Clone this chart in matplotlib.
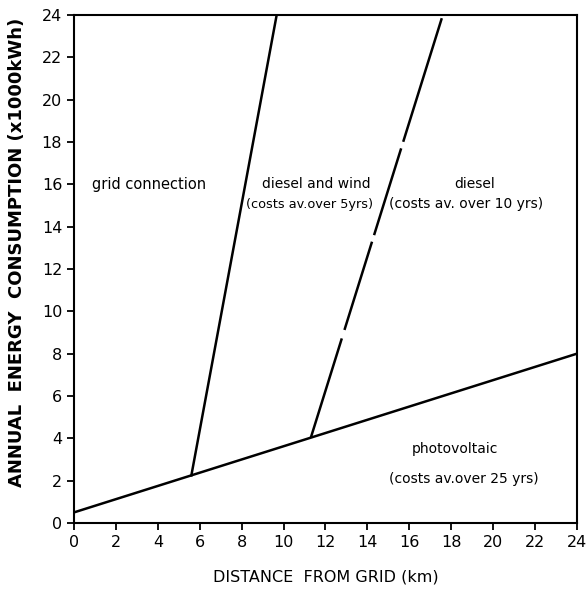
import numpy as np
import matplotlib
matplotlib.use("Agg")
import matplotlib.pyplot as plt

# boundary lines (distance km, consumption x1000 kWh)
pv_x = [0, 24]
pv_y = [0.5, 8.0]
grid_x = [5.6, 9.67]
grid_y = [2.25, 24.0]
diesel_x = [11.3, 17.55]
diesel_y = [4.03, 23.85]
# small breaks in the printed diesel line (y ranges)
diesel_gaps = [(8.72, 9.12), (13.29, 13.6), (17.7, 18.01)]

ticks = np.arange(0, 25, 2)

fig = plt.figure(figsize=(5.86, 5.89), dpi=100)
ax = fig.add_axes([0.1263, 0.1121, 0.8583, 0.8624])

ax.plot(pv_x, pv_y, color="black", lw=1.8)
ax.plot(grid_x, grid_y, color="black", lw=1.8)

# diesel line drawn in pieces between the gaps
edges = [diesel_y[0]]
for g0, g1 in diesel_gaps:
    edges += [g0, g1]
edges.append(diesel_y[1])
for i in range(0, len(edges), 2):
    ys = [edges[i], edges[i + 1]]
    xs = np.interp(ys, diesel_y, diesel_x)
    ax.plot(xs, ys, color="black", lw=1.8, solid_capstyle="butt")

ax.set_xlim(0, 24)
ax.set_ylim(0, 24)
ax.set_xticks(ticks)
ax.set_yticks(ticks)
ax.set_xticklabels([str(t) for t in ticks], fontsize=11.5)
ax.set_yticklabels([str(t) for t in ticks], fontsize=11.5)
ax.tick_params(direction="out", length=5, width=1.3)
for s in ax.spines.values():
    s.set_linewidth(1.5)

tfs = 10
tw = "medium"
ax.text(3.6, 16.0, "grid connection", ha="center", va="center", fontsize=10.5, fontweight=tw)
ax.text(11.55, 16.0, "diesel and wind", ha="center", va="center", fontsize=tfs, fontweight=tw)
ax.text(11.25, 15.05, "(costs av.over 5yrs)", ha="center", va="center", fontsize=9.3, fontweight=tw)
ax.text(19.1, 16.0, "diesel", ha="center", va="center", fontsize=tfs, fontweight=tw)
ax.text(18.7, 15.05, "(costs av. over 10 yrs)", ha="center", va="center", fontsize=tfs, fontweight=tw)
ax.text(18.2, 3.5, "photovoltaic", ha="center", va="center", fontsize=tfs, fontweight=tw)
ax.text(18.6, 2.08, "(costs av.over 25 yrs)", ha="center", va="center", fontsize=tfs, fontweight=tw)

ax.set_xlabel("DISTANCE  FROM GRID (km)", fontsize=11.5)
ax.xaxis.set_label_coords(0.5, -0.092)
ax.set_ylabel("ANNUAL  ENERGY  CONSUMPTION (x1000kWh)", fontsize=13,
              fontweight="bold")
ax.yaxis.set_label_coords(-0.095, 0.533)

fig.savefig("out.png", dpi=100)
